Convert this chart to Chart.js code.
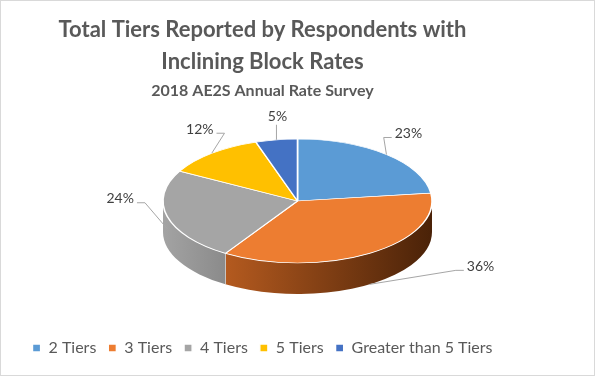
<!DOCTYPE html>
<html>
<head>
<meta charset="utf-8">
<script src="https://cdn.jsdelivr.net/npm/chart.js@4.4.1/dist/chart.umd.min.js"></script>
<style>
  body { margin: 0; background: #fff; }
  canvas { display: block; }
</style>
</head>
<body>
<canvas id="tiers" width="595" height="376"></canvas>
<script>
/* datos del grafico */
const labels = ["2 Tiers", "3 Tiers", "4 Tiers", "5 Tiers", "Greater than 5 Tiers"];
const shares = [23, 36, 24, 12, 5];

const topColors = ["#5B9BD5", "#ED7D31", "#A5A5A5", "#FFC000", "#4472C4"];
const sideColors = [
	["#4a86bd", "#1f3f5e"],
	["#d46b26", "#4a2208"],
	["#a3a3a3", "#3a3a3a"],
	["#e0a800", "#6b5000"],
	["#3d66b0", "#1c2f55"]
];

/* donde va la elipse (pseudo 3D) */
const pie3d = { cx: 297.5, cy: 201, rx: 134.5, ry: 62, depth: 31 };
// desplazamiento de cada etiqueta respecto al borde
const labelShift = [[22, -21], [111, -18], [-47, -30], [-12, -24], [1, -23]];

function edgePoint(angle, onSide) {
	let x = pie3d.cx + pie3d.rx * Math.cos(angle);
	let y = pie3d.cy + pie3d.ry * Math.sin(angle);
	if (onSide && Math.sin(angle) > 0) y += pie3d.depth * Math.min(1, Math.sin(angle) * 1.6);
	return { x: x, y: y };
}

const fondo = {
	id: "fondo",
	beforeDraw(chart) {
		const ctx = chart.ctx;
		ctx.save();
		ctx.fillStyle = "#ffffff";
		ctx.fillRect(0, 0, chart.width, chart.height);
		ctx.strokeStyle = "#d9d9d9";
		ctx.lineWidth = 1;
		ctx.strokeRect(0.5, 0.5, chart.width - 1, chart.height - 1);
		ctx.restore();
	}
};

const tresD = {
	id: "tresD",
	beforeDatasetsDraw(chart) {
		const ctx = chart.ctx;
		const meta = chart.getDatasetMeta(0);
		const p = pie3d;
		// lado del pastel (solo la parte de adelante)
		meta.data.forEach((arc, i) => {
			let a0 = Math.max(arc.startAngle, 0);
			let a1 = Math.min(arc.endAngle, Math.PI);
			if (a1 <= a0) return;
			const g = ctx.createLinearGradient(p.cx - p.rx, 0, p.cx + p.rx, 0);
			g.addColorStop(0, sideColors[i][0]);
			g.addColorStop(1, sideColors[i][1]);
			ctx.save();
			ctx.beginPath();
			ctx.ellipse(p.cx, p.cy, p.rx, p.ry, 0, a0, a1);
			ctx.ellipse(p.cx, p.cy + p.depth, p.rx, p.ry, 0, a1, a0, true);
			ctx.closePath();
			ctx.fillStyle = g;
			ctx.fill();
			// linea blanca entre lados
			if (arc.endAngle < Math.PI) {
				const e = edgePoint(arc.endAngle, false);
				ctx.beginPath();
				ctx.moveTo(e.x, e.y);
				ctx.lineTo(e.x, e.y + p.depth);
				ctx.strokeStyle = "rgba(255,255,255,0.9)";
				ctx.lineWidth = 1;
				ctx.stroke();
			}
			ctx.restore();
		});
		// aplastar el circulo a una elipse
		const a = meta.data[0];
		ctx.save();
		ctx.translate(p.cx, p.cy);
		ctx.scale(p.rx / a.outerRadius, p.ry / a.outerRadius);
		ctx.translate(-a.x, -a.y);
	},
	afterDatasetsDraw(chart) {
		chart.ctx.restore();
	},
	afterDraw(chart) {
		const ctx = chart.ctx;
		const meta = chart.getDatasetMeta(0);
		ctx.save();
		ctx.font = "14px Lato, 'Open Sans', sans-serif";
		ctx.textBaseline = "middle";
		ctx.textAlign = "center";
		meta.data.forEach((arc, i) => {
			const mid = (arc.startAngle + arc.endAngle) / 2;
			const s = edgePoint(mid, true);
			const txt = shares[i] + "%";
			const w = ctx.measureText(txt).width;
			const lx = s.x + labelShift[i][0];
			const ly = s.y + labelShift[i][1];
			let ex, ey;
			ctx.beginPath();
			ctx.moveTo(s.x, s.y);
			if (Math.abs(labelShift[i][0]) < 8) {
				ex = s.x; ey = ly + 8;
				ctx.lineTo(ex, ey);
			} else {
				const dir = labelShift[i][0] > 0 ? -1 : 1;
				ex = lx + dir * (w / 2 + 3);
				ey = ly + 4;
				ctx.lineTo(ex + dir * 8, ey);
				ctx.lineTo(ex, ey);
			}
			ctx.strokeStyle = "#a6a6a6";
			ctx.lineWidth = 1;
			ctx.stroke();
			ctx.fillStyle = "#404040";
			ctx.fillText(txt, lx, ly);
		});
		ctx.restore();
	}
};

const G4tiers = document.getElementById("tiers").getContext("2d");
let Tiers = new Chart(G4tiers, {
	type: "pie",
	data: {
		labels: labels,
		datasets: [
			{
				data: shares,
				backgroundColor: topColors,
				borderColor: "#ffffff",
				borderWidth: 1.3,
				clip: false,
			}
		],
	},
	options: {
		responsive: false,
		animation: false,
		events: [],
		layout: { padding: { left: 0, right: 70, top: 0, bottom: 10 } },
		plugins: {
			title: {
				display: true,
				text: ["Total Tiers Reported by Respondents with", "Inclining Block Rates"],
				color: "#595959",
				font: { family: "Lato, 'Open Sans', sans-serif", size: 22, weight: "bold", lineHeight: 1.45 },
				padding: { top: 14, bottom: 0 },
			},
			subtitle: {
				display: true,
				text: "2018 AE2S Annual Rate Survey",
				color: "#595959",
				font: { family: "Lato, 'Open Sans', sans-serif", size: 16, weight: "bold" },
				padding: { top: 3, bottom: 10 },
			},
			legend: {
				position: "bottom",
				labels: {
					color: "#595959",
					boxWidth: 8,
					boxHeight: 8,
					padding: 12,
					font: { family: "Lato, 'Open Sans', sans-serif", size: 16 },
				}
			},
			tooltip: { enabled: false }
		}
	},
	plugins: [fondo, tresD]
});
</script>
</body>
</html>
